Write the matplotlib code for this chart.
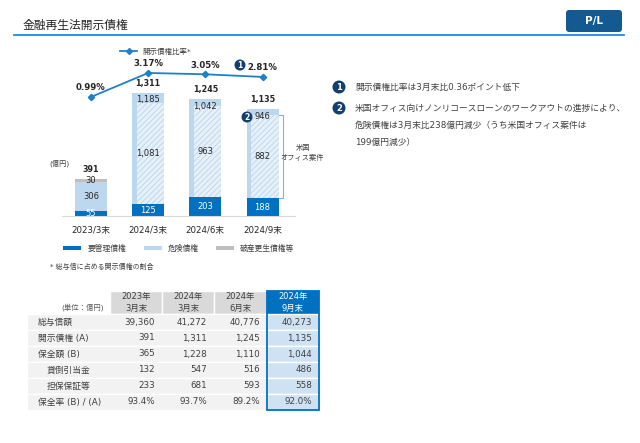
import matplotlib
matplotlib.use("Agg")
import matplotlib.pyplot as plt
from matplotlib.patches import Rectangle, Circle, FancyBboxPatch
import numpy as np

# chart data (億円)
periods = ["2023/3末", "2024/3末", "2024/6末", "2024/9末"]
youkanri = [55, 125, 203, 188]          # 要管理債権
kiken = [306, 1185, 1042, 946]          # 危険債権
hasan = [30, 1, 0, 1]                   # 破産更生債権等
us_office = [0, 1081, 963, 882]         # 危険債権のうち米国オフィス案件
totals = [391, 1311, 1245, 1135]
ratio = [0.99, 3.17, 3.05, 2.81]        # 開示債権比率 (%)

# table data
table_head = ["2023年\n3月末", "2024年\n3月末", "2024年\n6月末", "2024年\n9月末"]
table_rows = ["総与信額", "開示債権 (A)", "保全額 (B)", "貸倒引当金", "担保保証等", "保全率 (B) / (A)"]
row_indent = [False, False, False, True, True, False]
total_credit = [39360, 41272, 40776, 40273]
disclosed = [391, 1311, 1245, 1135]
secured = [365, 1228, 1110, 1044]
allowance = [132, 547, 516, 486]
collateral = [233, 681, 593, 558]
coverage = [93.4, 93.7, 89.2, 92.0]

notes = [
    ["開示債権比率は3月末比0.36ポイント低下"],
    ["米国オフィス向けノンリコースローンのワークアウトの進捗により、",
     "危険債権は3月末比238億円減少（うち米国オフィス案件は",
     "199億円減少）"],
]

C_DARK = "#0070c0"
C_LIGHT = "#bdd7ee"
C_GRAY = "#bfbfbf"
C_LINE = "#1f80c8"
C_NAVY = "#123f6e"
C_TEXT = "#404040"

plt.rcParams["font.family"] = ["DejaVu Sans", "Noto Sans CJK JP"]
plt.rcParams["hatch.linewidth"] = 0.5

W, H = 640, 443
fig = plt.figure(figsize=(6.4, 4.43), dpi=100)


def px_axes(left, top, right, bottom):
    return [left / W, (H - bottom) / H, (right - left) / W, (bottom - top) / H]


# ---- bar chart ----
ax = fig.add_axes(px_axes(62, 45, 295, 216))
x = np.arange(len(periods))
bw = 0.56
ya = np.array(youkanri)
kk = np.array(kiken)
hs = np.array(hasan)
ax.bar(x, ya, bw, color=C_DARK, zorder=2)
ax.bar(x, kk, bw, bottom=ya, color=C_LIGHT, zorder=2)
ax.bar(x, hs, bw, bottom=ya + kk, color=C_GRAY, zorder=2)
inset = 0.08
ax.bar(x + inset / 2, us_office, bw - inset, bottom=ya, facecolor="#e6f0f9",
       edgecolor="#b3cfea", hatch="//////", linewidth=0, zorder=3)
ax.set_xlim(-0.507, 3.568)
ax.set_ylim(0, 1819)
for s in ["top", "right", "left"]:
    ax.spines[s].set_visible(False)
ax.spines["bottom"].set_color("#d9d9d9")
ax.set_yticks([])
ax.set_xticks(x)
ax.set_xticklabels(periods, fontsize=6.2, color="#262626")
ax.tick_params(axis="x", length=0, pad=7)
ax.patch.set_alpha(0)

for i in x:
    ax.text(i, ya[i] / 2, f"{ya[i]:,}", ha="center", va="center", fontsize=6,
            color="white", zorder=5)
    if us_office[i]:
        ax.text(i, ya[i] + us_office[i] / 2, f"{us_office[i]:,}", ha="center",
                va="center", fontsize=6, color="#262626", zorder=5)
        ax.text(i, ya[i] + kk[i] - 75, f"{kk[i]:,}", ha="center", va="center",
                fontsize=6, color="#262626", zorder=5)
    else:
        ax.text(i, ya[i] + kk[i] / 2, f"{kk[i]:,}", ha="center", va="center",
                fontsize=6, color="#262626", zorder=5)
    if hs[i] >= 10:
        ax.text(i, ya[i] + kk[i] + hs[i] / 2, f"{hs[i]:,}", ha="center",
                va="center", fontsize=6, color="#262626", zorder=5)
    ax.annotate(f"{totals[i]:,}", (i, totals[i]), xytext=(0, 7),
                textcoords="offset points", ha="center", va="center",
                fontsize=5.8, fontweight="bold", color="#262626")

# bracket for 米国オフィス案件 on last bar
bx = 3 + bw / 2
ax.plot([bx, bx + 0.08, bx + 0.08, bx],
        [ya[3] + us_office[3], ya[3] + us_office[3], ya[3], ya[3]],
        color="#7fb2e0", lw=0.8, clip_on=False)
ax.text(bx + 0.42, ya[3] + us_office[3] * 0.55, "米国\nオフィス案件",
        ha="center", va="center", fontsize=5.2, color=C_TEXT, linespacing=1.4)

# ratio line
ax2 = ax.twinx()
ax2.set_ylim(-9.82, 5.71)
ax2.axis("off")
ax2.plot(x, ratio, color=C_LINE, lw=1.3, marker="D", ms=3.2, zorder=4)
for i in x:
    ax2.annotate(f"{ratio[i]:.2f}%", (i, ratio[i]), xytext=(0, 6.5),
                 textcoords="offset points", ha="center", va="center",
                 fontsize=6.2, fontweight="bold", color="#262626")

# ---- overlay in pixel coordinates ----
ov = fig.add_axes([0, 0, 1, 1])
ov.set_xlim(0, W)
ov.set_ylim(H, 0)
ov.axis("off")
ov.patch.set_alpha(0)

ov.text(23, 25, "金融再生法開示債権", fontsize=8.5, color="#262626", va="center")
ov.plot([14, 624], [35, 35], color="#1b8fe0", lw=1.3)
ov.add_patch(FancyBboxPatch((566, 10), 56, 22, boxstyle="round,pad=0,rounding_size=3",
                            fc="#135a92", ec="none"))
ov.text(594, 21, "P/L", ha="center", va="center", fontsize=7.5,
        fontweight="bold", color="white")

# line legend
ov.plot([120, 137], [51, 51], color=C_LINE, lw=1.3)
ov.plot([128.5], [51], color=C_LINE, marker="D", ms=3)
ov.text(142, 51, "開示債権比率*", fontsize=5.4, va="center", color=C_TEXT)

ov.text(59, 163, "(億円)", fontsize=5.2, ha="center", va="center", color=C_TEXT)


def badge(cx, cy, r, label, fs):
    ov.add_patch(Circle((cx, cy), r, fc=C_NAVY, ec="none", zorder=10))
    ov.text(cx, cy + 0.3, label, ha="center", va="center", fontsize=fs,
            fontweight="bold", color="white", zorder=11)


badge(240, 65, 5.5, "1", 5.5)
badge(247, 117, 5.5, "2", 5.5)

# bottom legend
leg = [("要管理債権", C_DARK, 63, 88), ("危険債権", C_LIGHT, 144, 168),
       ("破産更生債権等", C_GRAY, 216, 240)]
for lab, col, x0, tx in leg:
    ov.add_patch(Rectangle((x0, 245.5), 18, 4, fc=col, ec="none"))
    ov.text(tx, 248, lab, fontsize=5.6, va="center", color=C_TEXT)
ov.text(50, 266, "* 総与信に占める開示債権の割合", fontsize=5, va="center",
        color=C_TEXT)

# notes on the right
badge(339, 87, 6.5, "1", 6)
badge(339, 108, 6.5, "2", 6)
ov.text(355, 87, notes[0][0], fontsize=6.3, va="center", color=C_TEXT)
for k, line in enumerate(notes[1]):
    ov.text(355, 108 + k * 17, line, fontsize=6.3, va="center", color=C_TEXT)

# ---- table ----
col_edges = [27, 110, 162, 214, 267, 319]
head_top, head_bot = 291, 314
row_h = 16
tab_bot = head_bot + row_h * len(table_rows)
for j in range(3):
    ov.add_patch(Rectangle((col_edges[j + 1], head_top), col_edges[j + 2] - col_edges[j + 1],
                           head_bot - head_top, fc="#d9d9d9", ec="white", lw=1))
ov.add_patch(Rectangle((col_edges[4], head_top), col_edges[5] - col_edges[4],
                       head_bot - head_top, fc=C_DARK, ec="none"))
for j, h in enumerate(table_head):
    cx = (col_edges[j + 1] + col_edges[j + 2]) / 2
    ov.text(cx, (head_top + head_bot) / 2, h, ha="center", va="center",
            fontsize=6, linespacing=1.35, color="white" if j == 3 else C_TEXT)
ov.text(104, 307.5, "(単位：億円)", ha="right", va="center", fontsize=5.3,
        color="#595959")

cells = [
    [f"{v:,}" for v in total_credit],
    [f"{v:,}" for v in disclosed],
    [f"{v:,}" for v in secured],
    [f"{v:,}" for v in allowance],
    [f"{v:,}" for v in collateral],
    [f"{v:.1f}%" for v in coverage],
]
for r, lab in enumerate(table_rows):
    y0 = head_bot + r * row_h
    ov.add_patch(Rectangle((col_edges[0], y0), col_edges[4] - col_edges[0], row_h,
                           fc="#f2f2f2", ec="white", lw=1))
    ov.add_patch(Rectangle((col_edges[4], y0), col_edges[5] - col_edges[4], row_h,
                           fc="#cfe2f3", ec="white", lw=1))
    yc = y0 + row_h / 2
    ov.text(47 if row_indent[r] else 38, yc, lab, va="center", fontsize=6.3,
            color=C_TEXT)
    for j, val in enumerate(cells[r]):
        ov.text(col_edges[j + 2] - 7, yc, val, ha="right", va="center",
                fontsize=6.3, color=C_TEXT)
ov.add_patch(Rectangle((col_edges[4], head_top), col_edges[5] - col_edges[4],
                       tab_bot - head_top, fc="none", ec=C_DARK, lw=1.3, zorder=5))

fig.savefig("out.png", dpi=100)
